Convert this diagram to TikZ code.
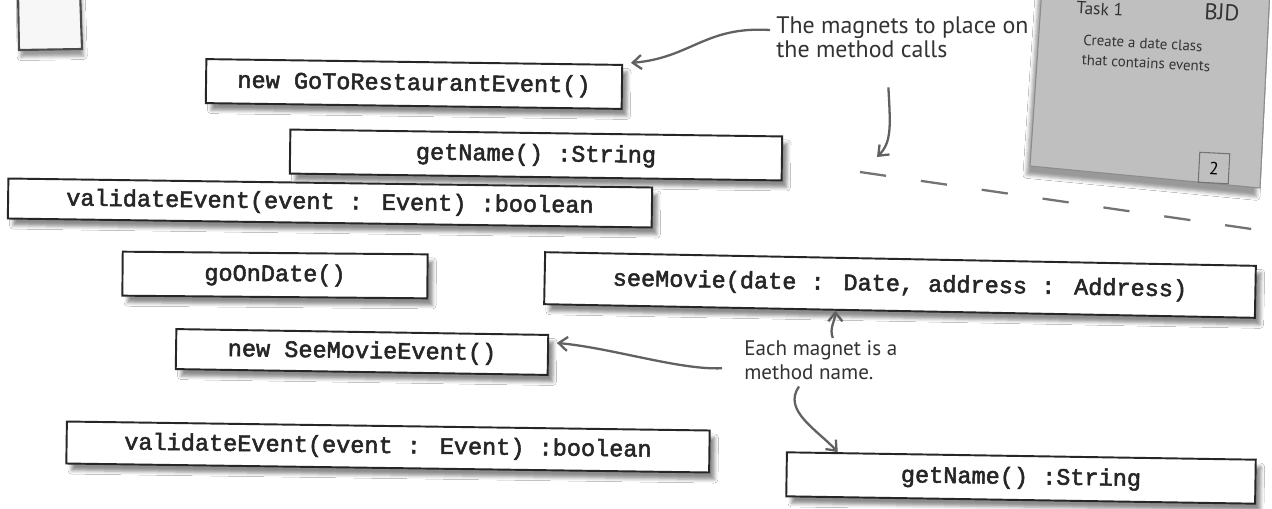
\documentclass[tikz,border=0pt]{standalone}
\usepackage{fontspec}
\setmainfont{PT Sans}
\newfontfamily\magnetfont{Liberation Mono}[FakeBold=2.2]
\usetikzlibrary{arrows.meta,positioning,calc,shadows.blur}

\begin{document}
\begin{tikzpicture}[
      x=0.02cm, y=-0.02cm,
      every node/.style={inner sep=0pt},
      magnet/.style={draw=black!85, line width=1.1pt, fill=white, minimum height=0.88cm,
        font=\magnetfont\fontsize{13.4}{16}\selectfont, text=black!85,
        blur shadow={shadow xshift=3pt, shadow yshift=-4pt, shadow opacity=45}},
      note/.style={font=\fontsize{13.6}{14}\selectfont, align=left, text=black!80},
      cardtext/.style={font=\fontsize{8.5}{10}\selectfont, text=black!80},
      arr/.style={-{Straight Barb[length=5pt,width=8pt]}, line width=1.3pt, draw=black!62}
    ]
      \useasboundingbox[fill=white] (0,0) rectangle (1272,508);

      % cards
      \draw[fill=black!3, draw=black!70, line width=1.2pt,
        blur shadow={shadow xshift=1pt, shadow yshift=-4pt, shadow opacity=40}]
        (18,-10) -- (19,50) -- (82,49) -- (80,-10) -- cycle;
      \draw[fill=black!25, draw=black!45, line width=0.6pt,
        blur shadow={shadow xshift=-2pt, shadow yshift=-5pt, shadow opacity=40}]
        (1042,-12) -- (1030,166) -- (1260,188) -- (1270,-12) -- cycle;
      \node[cardtext, font=\fontsize{10}{11}\selectfont, rotate=-3] (task) at (1100,9) {Task 1};
      \node[cardtext, font=\fontsize{13}{14}\selectfont, rotate=-3] (initials) at (1222,12) {BJD};
      \node[cardtext, rotate=-3] (cardA) at (1143,43) {Create a date class};
      \node[cardtext, rotate=-3] (cardB) at (1146,63) {that contains events};
      \node[draw=black!55, line width=0.6pt, minimum size=0.6cm, rotate=-3,
        font=\fontsize{10}{11}\selectfont] (page) at (1214,168) {2};

      \draw[black!55, line width=1.3pt, dash pattern=on 15pt off 20pt]
        (860,172) -- (1272,232);

      % magnets
      \node[magnet, minimum width=8.32cm, rotate=-0.8] (restaurant) at (414,84) {new GoToRestaurantEvent()};
      \node[magnet, minimum width=9.84cm, rotate=-0.8] (nameA) at (536,155) {getName() :String};
      \node[magnet, minimum width=12.88cm, minimum height=0.8cm, rotate=-0.8] (validA) at (330,203) {validateEvent(event : Event) :boolean};
      \node[magnet, minimum width=6.1cm, rotate=-0.5] (date) at (275,275) {goOnDate()};
      \node[magnet, minimum width=14.22cm, minimum height=1.04cm, rotate=-1.1] (movie) at (900,285) {seeMovie(date : Date, address : Address)};
      \node[magnet, minimum width=7.44cm, minimum height=0.8cm, rotate=-0.9] (movieEvent) at (362,352) {new SeeMovieEvent()};
      \node[magnet, minimum width=12.86cm, minimum height=0.84cm, rotate=-0.8] (validB) at (388,447) {validateEvent(event : Event) :boolean};
      \node[magnet, minimum width=9.38cm, rotate=-0.9] (nameB) at (1021,478) {getName() :String};

      % notes
      \node[note, anchor=north west] (magnetsNote) at (776,16) {The magnets to place on\\the method calls};
      \node[note, font=\fontsize{12}{14}\selectfont, anchor=north west] (eachNote) at (744,340) {Each magnet is a\\method name.};
      \coordinate (drop) at (877,157);

      \draw[arr] ([shift={(-6,14)}]magnetsNote.north west) .. controls +(-65,-4) and +(60,-5) .. ([shift={(8,-24)}]restaurant.east);
      \draw[arr] ([shift={(-14,29)}]magnetsNote.south) .. controls +(2,38) and +(15,-15) .. (drop);
      \draw[arr] ([shift={(-22,8)}]eachNote.west) .. controls +(-42,2) and +(55,5) .. ([shift={(8,-12)}]movieEvent.east);
      \draw[arr] ([shift={(12,-2)}]eachNote.north) .. controls +(-4,-10) and +(0,10) .. ($(movie.south west)!0.41!(movie.south east)$);
      \draw[arr] ([shift={(55,6)}]eachNote.south west) .. controls +(-17,24) and +(-20,-22) .. ($(nameB.north west)!0.11!(nameB.north east)$);
    \end{tikzpicture}
\end{document}
